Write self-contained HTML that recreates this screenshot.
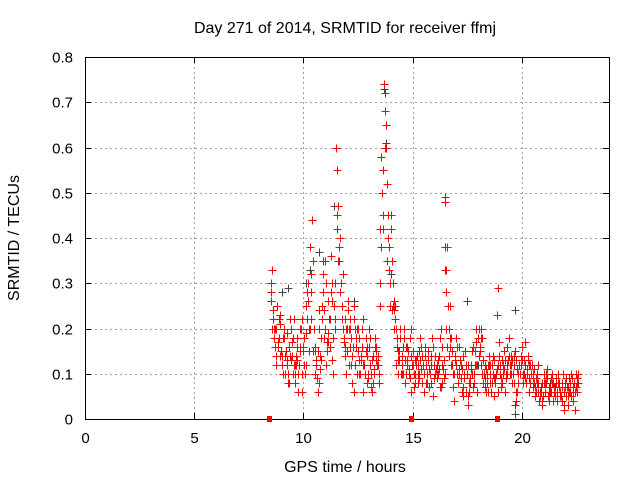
<!DOCTYPE html>
<html><head><meta charset="utf-8"><style>
body{margin:0;background:#fff}
svg{display:block;font-family:"Liberation Sans",sans-serif}
</style></head><body>
<svg id="chart" width="640" height="480" viewBox="0 0 640 480">
<rect width="640" height="480" fill="#fff"/>
<g id="grid" shape-rendering="crispEdges"></g>
<g id="axes"></g>
<g id="marks" shape-rendering="crispEdges"></g>
<text x="345" y="33" font-size="16" text-anchor="middle">Day 271 of 2014, SRMTID for receiver ffmj</text>
<text x="345" y="472" font-size="16" text-anchor="middle">GPS time / hours</text>
<text x="0" y="0" font-size="16" text-anchor="middle" transform="translate(19,238) rotate(-90)">SRMTID / TECUs</text>
</svg>
<script>
const xTicks=[0,5,10,15,20];
const yTicks=[0,0.1,0.2,0.3,0.4,0.5,0.6,0.7,0.8];
const yTickLabels=["0","0.1","0.2","0.3","0.4","0.5","0.6","0.7","0.8"];
const aStart=8.5;
const aValues=[.30,.22,.16,.25,.18,.12,.2,.15,.1,.22,
.14,.08,.18,.12,.2,.15,.25,.3,.38,.44,
.2,.12,.08,.18,.28,.35,.15,.22,.3,.25,
.6,.47,.4,.32,.22,.15,.2,.12,.25,.18,
.15,.1,.2,.12,.08,.16,.1,.14,.18,.12,
.25,.5,.74,.6,.4,.45,.3,.22,.18,.15,
.12,.2,.1,.15,.18,.12,.08,.14,.1,.16,
.12,.08,.15,.1,.18,.12,.09,.14,.2,.11,
.48,.38,.25,.15,.1,.18,.08,.12,.05,.15,
.1,.06,.12,.08,.2,.18,.15,.1,.12,.08,
.14,.06,.1,.08,.29,.12,.08,.15,.1,.18,
.12,.1,.15,.06,.12,.16,.1,.08,.14,.12,
.1,.05,.08,.04,.06,.1,.08,.05,.07,.1,
.06,.04,.08,.05,.1,.07,.03,.06,.09,.08,
.07,.1];
const bStart=8.55;
const bValues=[.33,.2,.12,.17,.23,.1,.14,.19,.08,.13,
.22,.12,.06,.15,.1,.18,.28,.2,.32,.15,
.1,.06,.14,.22,.18,.12,.26,.36,.1,.3,
.45,.35,.25,.18,.1,.24,.16,.08,.12,.2,
.1,.14,.06,.18,.09,.12,.06,.1,.15,.08,
.58,.42,.72,.35,.3,.24,.2,.12,.1,.2,
.16,.08,.12,.1,.14,.07,.12,.1,.18,.08,
.16,.1,.07,.12,.05,.14,.1,.18,.08,.13,
.33,.2,.12,.07,.14,.1,.16,.06,.1,.12,
.05,.09,.16,.12,.06,.14,.2,.08,.06,.12,
.1,.12,.05,.23,.14,.07,.12,.06,.16,.1,
.08,.14,.06,.1,.12,.08,.17,.11,.06,.1,
.08,.06,.12,.05,.03,.08,.11,.06,.09,.04,
.08,.1,.05,.07,.03,.09,.06,.1,.04,.02,
.06];
const cStart=8.52;
const cValues=[.26,.2,.14,.18,.08,
.1,.16,.06,.12,.2,
.15,.24,.32,.17,.13,
.55,.3,.14,.22,.06,
.2,.12,.16,.07,.13,
.42,.68,.38,.25,.13,
.1,.16,.06,.13,.09,
.06,.13,.16,.1,.07,
.28,.18,.04,.11,.14,
.03,.15,.12,.18,.07,
.12,.09,.06,.13,.1,
.14,.04,.1,.13,.09,
.07,.1,.04,.08,.06,
.05,.08,.02,.07,.09,
.08];
const dStart=8.53;
const dValues=[.28,.24,.2,.16,.21,.14,.18,.12,.16,.2,
.18,.1,.13,.16,.22,.12,.19,.26,.22,.35,
.16,.09,.2,.13,.24,.3,.19,.16,.26,.22,
.42,.38,.3,.2,.16,.26,.2,.14,.22,.16,
.18,.13,.22,.1,.14,.2,.13,.11,.16,.14,
.3,.45,.6,.52,.33,.42,.26,.2,.15,.18,
.14,.18,.13,.11,.2,.15,.1,.12,.13,.14,
.1,.12,.13,.08,.16,.1,.12,.11,.16,.09,
.2,.25,.16,.12,.13,.16,.1,.09,.07,.12,
.12,.08,.1,.1,.17,.2,.12,.13,.09,.1,
.12,.08,.13,.1,.12,.1,.1,.13,.12,.14,
.1,.12,.13,.08,.1,.13,.12,.1,.12,.1,
.09,.07,.06,.06,.08,.08,.1,.07,.06,.08,
.07,.06,.07,.08,.06,.05,.05,.08,.07,.06,
.09];
const eStart=8.57;
const eValues=[.2,.18,.14,.22,.15,.18,.1,.13,.14,.17,
.12,.14,.1,.2,.16,.1,.22,.15,.28,.2,
.13,.15,.11,.25,.2,.17,.22,.28,.18,.2,
.35,.28,.22,.17,.2,.12,.18,.16,.2,.1,
.13,.16,.12,.15,.1,.18,.08,.16,.12,.1,
.38,.55,.65,.45,.25,.35,.24,.16,.13,.1,
.1,.13,.16,.09,.12,.1,.13,.08,.11,.12,
.14,.08,.11,.14,.09,.11,.13,.07,.12,.1,
.16,.14,.18,.1,.12,.08,.13,.11,.09,.06,
.08,.11,.07,.15,.12,.16,.18,.1,.11,.06,
.08,.14,.09,.11,.17,.09,.11,.09,.13,.12,
.13,.08,.11,.12,.14,.1,.09,.13,.08,.12,
.11,.09,.08,.07,.05,.06,.09,.04,.08,.07,
.09,.08,.06,.04,.08,.07,.09,.05,.06,.1,
.08];
const grayTimes=[9.0,9.3,10.1,10.3,10.7,11.4,11.7,12.3,13.8,13.7,14.2,16.5,16.5,16.5,17.5,19.7,19.7,19.7,14.0,10.9,12.0,9.6,15.3,18.0,21.3];
const grayValues=[.28,.29,.3,.33,.37,.47,.4,.26,.61,.73,.25,.49,.38,.33,.26,.24,.03,.01,.32,.35,.2,.12,.15,.12,.08];
const zeroTimes=[8.45,14.95,18.85];

const L=85,R=609,T=57,B=419,NS="http://www.w3.org/2000/svg";
const xs=t=>L+(t/24)*(R-L);
const ys=v=>B-(v/0.8)*(B-T);
const grid=document.getElementById('grid'),axes=document.getElementById('axes'),marks=document.getElementById('marks');
function mk(tag,at,parent){const e=document.createElementNS(NS,tag);for(const k in at)e.setAttribute(k,at[k]);parent.appendChild(e);return e;}
xTicks.forEach(t=>{
 const x=Math.round(xs(t))+0.5;
 if(t>0){const g=mk('line',{x1:x,x2:x,y1:T,y2:B,stroke:'#a0a0a0','stroke-dasharray':'2,3'},grid);
 
 }
 mk('line',{x1:x,x2:x,y1:B,y2:B-6,stroke:'#000'},axes);
 mk('line',{x1:x,x2:x,y1:T,y2:T+6,stroke:'#000'},axes);
 const lb=mk('text',{x:x,y:B+24,'font-size':15,'text-anchor':'middle'},axes);lb.textContent=t;
 
 
});
yTicks.forEach((v,i)=>{
 const y=Math.round(ys(v))+0.5;
 if(i>0&&i<yTicks.length-1){const g=mk('line',{x1:L,x2:R,y1:y,y2:y,stroke:'#a0a0a0','stroke-dasharray':'2,3'},grid);
 
 }
 mk('line',{x1:L,x2:L+6,y1:y,y2:y,stroke:'#000'},axes);
 mk('line',{x1:R,x2:R-6,y1:y,y2:y,stroke:'#000'},axes);
 const lb=mk('text',{x:L-12,y:y+5,'font-size':15,'text-anchor':'end'},axes);lb.textContent=yTickLabels[i];
 
 
});
mk('rect',{x:L+0.5,y:T+0.5,width:R-L,height:B-T,fill:'none',stroke:'#000'},axes);
function plus(t,v,col){
 const x=Math.round(xs(t))+0.5,y=Math.round(ys(v))+0.5;
 const p=mk('path',{d:`M${x-4},${y}h8M${x},${y-4}v8`,stroke:col,'stroke-width':1,fill:'none'},marks);
 
 
}
grayTimes.forEach((t,i)=>plus(t,grayValues[i],'#444'));
aValues.forEach((v,i)=>plus(aStart+i*0.1,v,'#f00'));
bValues.forEach((v,i)=>plus(bStart+i*0.1,v,'#f00'));
cValues.forEach((v,i)=>plus(cStart+i*0.2,v,'#f00'));
dValues.forEach((v,i)=>plus(dStart+i*0.1,v,'#f00'));
eValues.forEach((v,i)=>plus(eStart+i*0.1,v,'#f00'));
zeroTimes.forEach(t=>{
 const r=mk('rect',{x:Math.round(xs(t))-2,y:B-3,width:5,height:6,fill:'#f00'},marks);
 
 
});
</script>
</body></html>
